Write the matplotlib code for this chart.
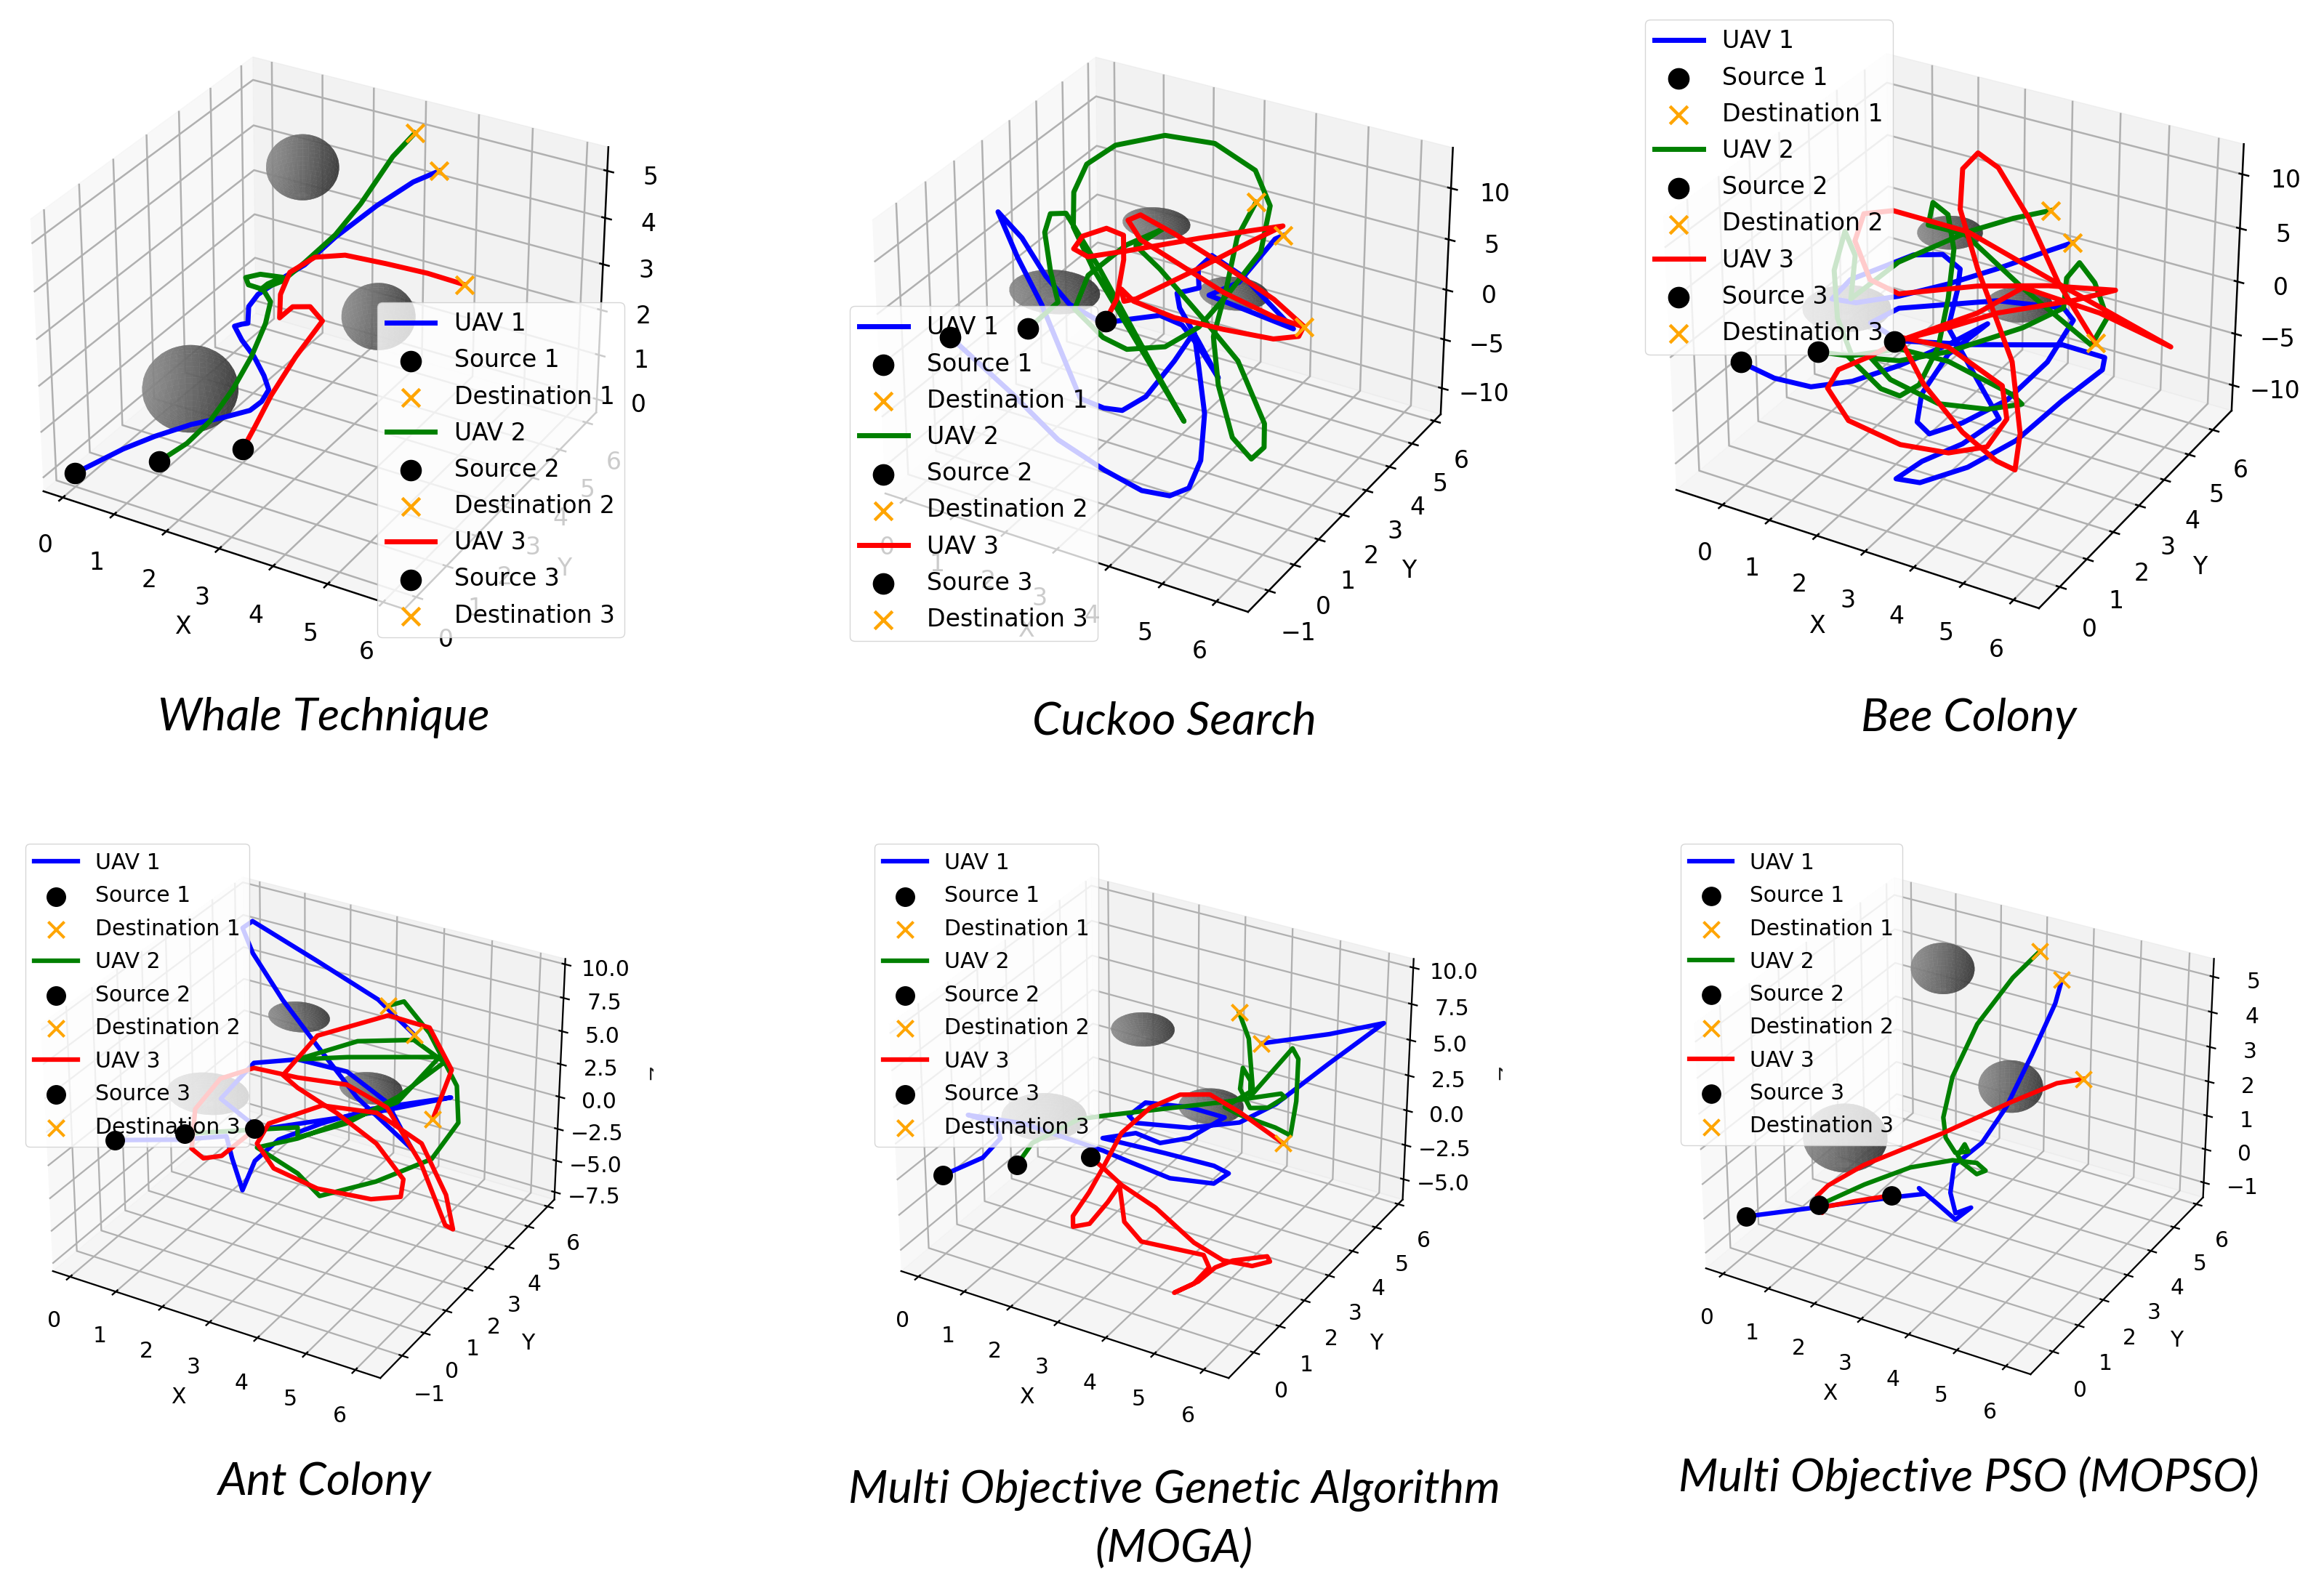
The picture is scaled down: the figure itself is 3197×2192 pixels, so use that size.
import matplotlib
matplotlib.use("Agg")
import matplotlib.pyplot as plt
from matplotlib.transforms import Bbox
import numpy as np

W, H = 3197, 2192

titles = ["Whale Technique", "Cuckoo Search", "Bee Colony", "Ant Colony",
          "Multi Objective Genetic Algorithm\n(MOGA)", "Multi Objective PSO (MOPSO)"]

# obstacles, the same in every panel
sphere_x = [1, 2, 4]
sphere_y = [2, 4, 3]
sphere_z = [1, 5, 3]
sphere_r = [0.8, 0.6, 0.6]

# sources and destinations, panel by panel
src_x = [0, 1, 2]
src_y = [0, 1, 2]
dst_x = [4, 3, 4]
dst_y = [5, 6, 6]
src_z = [[0, 0, 0], [-0.6, -0.5, -0.45], [-0.8, -0.8, -0.8],
         [-0.63, -0.6, -0.65], [-0.88, -0.79, -0.88], [-0.36, -0.3, -0.29]]
dst_z = [[5, 5, 2], [4.5, 4.4, -6.9], [4.4, 4.1, -7.4],
         [4.2, 4.07, -3.8], [4.31, 4.1, -4.47], [4.8, 4.67, 1.32]]

# y is not readable from a 3D picture, every path is read on one plane per panel
mid_y = [2.71, 2.25, 3.03, 2.35, 2.78, 2.87]

whale_x1 = [-.86, -.20, .55, 1.20, 1.72, 1.95, 2.09, 2.0, 1.81, 1.58, 1.44, 1.58, 1.70, 1.72, 1.90, 2.33, 2.79, 3.36, 4.11, 4.76]
whale_z1 = [-1.46, -.93, -.39, 0, .34, .62, .93, 1.21, 1.57, 1.85, 2.11, 2.20, 2.26, 2.63, 2.95, 3.41, 3.87, 4.63, 5.51, 6.19]
whale_x2 = [.45, .92, 1.39, 1.76, 2.04, 2.14, 2.0, 1.72, 1.67, 1.95, 2.37, 2.09, 1.95, 2.37, 2.79, 3.36, 3.82, 4.39]
whale_z2 = [-.86, -.19, .70, 1.55, 2.37, 2.87, 3.09, 3.10, 3.24, 3.40, 3.47, 3.24, 3.07, 3.39, 3.92, 4.68, 5.46, 6.59]
whale_x3 = [1.81, 2.14, 2.61, 3.12, 2.89, 2.56, 2.31, 2.33, 2.51, 2.98, 3.54, 4.29, 5.04]
whale_z3 = [0, .83, 1.83, 2.78, 3.01, 2.90, 2.58, 3.09, 3.62, 4.09, 4.31, 4.37, 4.41]

cuckoo_x1 = [-.05, .88, 1.82, 2.57, 3.13, 3.51, 3.74, 3.81, 3.69, 3.60, 3.22, 2.66, 2.19, 1.82, 1.35, .60, .13, -.24, .23, .69, 1.16, 1.82, 2.38, 2.94, 3.37, 3.69, 4.07, 3.69, 3.32, 3.27, 3.69, 3.67, 3.93, 4.54, 5.47, 4.44, 3.88, 4.44, 5.10]
cuckoo_z1 = [-11.49, -14.85, -16.53, -17.45, -17.08, -15.65, -12.43, -7.55, -2.94, .27, -3.17, -7.61, -9.75, -10.08, -9.83, -1.41, 2.66, 6.63, 4.71, 1.59, -.56, -1.48, -.24, .94, .62, -1.03, -3.56, -.55, 2.23, 3.59, 4.71, 6.59, 8.18, 6.95, 3.35, 3.94, 4.28, 6.33, 11.38]
cuckoo_x2 = [.93, .79, .69, .81, 1.12, 1.73, 2.29, 2.85, 3.41, 2.85, 2.24, 1.63, 1.26, 1.28, 1.54, 2.10, 3.04, 3.97, 4.72, 5.0, 4.84, 4.26, 3.69, 3.04, 2.29, 1.82, 1.26, 1.54, 2.29, 2.99, 2.48, 2.94, 3.79, 4.44, 4.96, 4.96, 4.72, 4.35, 4.07, 3.97, 4.21, 4.40]
cuckoo_z2 = [-.68, 2.22, 5.90, 7.88, 8.35, 4.12, -.29, -4.70, -8.95, -4.94, -.60, 3.74, 7.23, 10.61, 13.63, 16.16, 18.30, 18.76, 17.26, 14.35, 9.80, 5.08, .89, -2.02, -3.40, -2.91, -.89, 2.87, 6.88, 9.39, 7.07, 5.48, 1.74, -1.32, -6.75, -9.14, -10.70, -9.11, -4.28, .36, 5.49, 10.56]
cuckoo_x3 = [2.10, 2.24, 2.24, 1.91, 1.44, 1.26, 1.54, 2.29, 3.69, 5.24, 4.63, 3.69, 2.48, 2.24, 2.19, 2.43, 3.22, 4.16, 5.10, 5.57, 5.66, 5.10, 4.16, 3.22, 2.57, 2.33, 2.57, 3.22, 4.16, 5.10]
cuckoo_z3 = [1.34, 5.38, 7.77, 7.98, 6.56, 5.08, 4.69, 6.31, 9.49, 12.80, 10.43, 6.62, 1.90, 1.31, 2.44, 1.59, 1.13, 1.36, 1.82, 2.77, 3.88, 5.64, 7.57, 9.26, 10.18, 9.34, 7.79, 6.63, 4.94, 3.97]

bee_x1 = [-1.29, -.47, .45, 1.48, 2.52, 3.34, 2.52, 1.95, 1.85, 2.11, 2.82, 3.75, 4.57, 5.08, 4.88, 3.54, 1.48, .87, 1.48, 3.03, 4.88, 5.72, 5.68, 4.88, 3.95, 2.93, 1.90, 1.38, 1.95, 2.82, 3.59, 2.52, 2.72, 2.77, 2.41, 1.80, .45, .04, .56, 1.48, 2.52, 3.54, 4.42]
bee_z1 = [-11.06, -10.81, -9.02, -6.10, -2.73, .30, -3.64, -8.23, -11.08, -11.88, -9.82, -6.35, -1.65, 2.88, 3.75, 2.70, -.65, -2.82, -3.74, -2.06, .35, .30, -.89, -4.88, -9.94, -14.0, -17.0, -17.36, -14.81, -11.86, -8.37, -1.14, 2.77, 4.65, 5.54, 4.74, .74, -1.61, -1.31, .49, 2.95, 5.65, 8.15]
bee_x2 = [.35, .66, 1.07, 1.48, 1.90, 2.31, 2.52, 2.64, 2.52, 2.21, 2.11, 2.87, 4.06, 5.45, 5.75, 5.49, 5.18, 4.93, 4.88, 4.06, 2.52, 1.48, .87, 1.28, 2.31, 3.34, 4.06, 3.85, 2.52, 1.48, .45, .15, .10, .35, .56, .45, 1.48, 2.93, 3.85]
bee_z2 = [-6.66, -7.62, -8.9, -9.05, -7.39, -3.22, 1.59, 6.29, 9.31, 10.04, 7.87, 7.96, 4.50, 1.08, 3.97, 6.82, 8.24, 6.54, 3.75, .87, -3.41, -5.65, -6.22, -7.73, -8.67, -7.79, -6.31, -5.67, -4.32, -4.51, -6.53, -3.30, 1.18, 5.15, 3.15, -1.08, 3.67, 8.25, 10.59]
bee_x3 = [2.52, 3.54, 5.08, 5.90, 4.57, 3.13, 1.48, .87, .56, .76, 1.38, 2.93, 4.57, 7.01, 5.60, 4.06, 3.13, 1.48, .87, .15, -.10, .35, 1.48, 2.52, 3.34, 3.75, 3.65, 2.52, 1.48, 2.0, 2.82, 3.54, 3.93, 4.03, 3.85, 3.13, 2.77, 2.82, 3.13, 3.54, 4.16, 4.77]
bee_z3 = [-1.14, 1.56, 4.70, 6.67, 5.39, 3.53, .71, 1.27, 4.51, 7.27, 8.30, 8.25, 6.07, 2.98, 4.22, 4.58, 1.03, -3.74, -5.99, -8.29, -10.44, -13.02, -13.82, -13.17, -11.42, -8.17, -5.12, -2.96, -3.38, -7.25, -10.73, -12.52, -12.83, -9.17, -2.58, 5.11, 10.10, 13.79, 15.56, 14.73, 10.99, 5.89]

ant_x1 = [.17, 1.21, 1.33, 1.55, 1.83, 2.35, 3.28, 4.32, 5.92, 4.32, 1.93, 1.10, 1.83, 2.76, 3.80, 4.63, 5.15, 4.01, 3.18, 2.45, 1.83, 1.62, 1.83, 3.18, 4.42]
ant_z1 = [-3.97, -2.60, -4.21, -6.49, -3.88, -1.67, .56, 2.73, 5.21, 2.42, -1.33, .19, 3.66, 4.85, 4.97, 3.53, .59, 3.25, 6.25, 8.97, 11.79, 13.43, 14.11, 12.45, 10.85]
ant_x2 = [1.88, 2.76, 2.76, 3.80, 4.84, 5.77, 5.15, 4.01, 2.76, 3.80, 5.67, 4.84, 2.76, 1.88, 2.76, 3.23, 4.42, 5.56, 6.08, 6.03, 5.46, 4.94]
ant_z2 = [-1.38, -.30, -1.07, 1.10, 4.13, 7.63, 8.64, 7.43, 4.85, 6.05, 7.91, 3.75, -1.15, -2.78, -3.86, -5.11, -2.69, .25, 3.51, 6.17, 9.44, 11.21]
ant_x3 = [1.72, 1.10, .69, .43, .53, 1.10, 1.83, 2.76, 3.80, 4.63, 5.35, 5.87, 6.03, 5.87, 5.35, 4.42, 3.28, 2.14, 1.88, 2.24, 3.18, 4.32, 4.94, 4.99, 4.42, 3.59, 2.76, 2.45, 3.18, 4.63, 5.46, 5.92]
ant_z3 = [-1.86, -4.26, -4.89, -4.40, -1.19, 1.74, 3.28, 3.49, 4.0, 3.14, -.35, -4.45, -4.59, -2.13, 1.20, 2.53, 1.91, -.65, -2.47, -4.02, -4.58, -4.16, -3.30, -1.90, .21, 1.65, 2.72, 3.36, 7.03, 9.91, 9.83, 7.22]

moga_x1 = [-.89, -.47, -.58, -1.20, .04, 1.81, 2.33, 3.26, 4.19, 4.50, 4.19, 3.16, 1.81, 2.53, 3.05, 3.67, 4.40, 3.67, 2.74, 2.38, 2.53, 3.67, 4.71, 5.44, 6.47, 7.51, 6.47]
moga_z1 = [-5.08, -3.24, -2.26, -2.23, -1.65, -1.90, -2.12, -2.46, -1.91, -.88, -.65, -.77, -1.01, .05, -.15, .81, 2.95, 2.96, 2.41, 1.15, .77, 1.53, 2.90, 4.86, 8.55, 12.17, 10.52]
moga_x2 = [.25, 1.29, 1.86, 3.36, 4.40, 5.54, 5.62, 5.28, 4.92, 4.71, 4.76, 4.92, 4.92, 5.75, 5.87, 5.85, 5.75, 5.44, 4.71, 4.40, 4.97, 4.87]
moga_z2 = [-2.88, -.16, .65, 2.65, 4.03, 5.67, 5.50, 4.46, 4.10, 5.22, 6.70, 5.96, 4.89, 8.92, 8.32, 5.44, 3.01, 3.25, 3.43, 3.67, 5.37, 8.77]
moga_x3 = [1.81, 1.50, 1.13, 1.13, 1.50, 1.91, 2.17, 2.27, 2.64, 3.99, 4.11, 3.78, 3.36, 3.88, 4.24, 4.61, 5.33, 5.39, 5.02, 4.40, 3.78, 2.95, 2.22, 1.81, 2.22, 2.84, 3.47, 4.09, 4.71]
moga_z3 = [-3.15, -5.25, -7.39, -8.18, -7.58, -5.56, -4.05, -6.64, -7.71, -7.29, -8.07, -9.64, -10.76, -9.36, -7.94, -7.04, -5.97, -6.28, -7.0, -7.24, -6.60, -4.90, -4.0, -3.15, -.25, 2.15, 3.65, 4.25, 3.61]

pso_x1 = [-.05, 1.60, 2.22, 2.10, 2.53, 2.90, 3.24, 2.90, 2.79, 2.87, 3.47, 3.98, 4.50, 4.96]
pso_z1 = [-2.07, -1.10, -.75, -.63, -.95, -1.24, -.74, -1.05, -.48, .36, 1.26, 2.49, 4.16, 5.74]
pso_x2 = [.88, 1.91, 2.84, 3.36, 3.55, 3.36, 3.05, 2.95, 3.10, 3.18, 2.90, 2.69, 2.64, 2.84, 3.36, 4.09]
pso_z2 = [-1.02, -.09, .50, .63, .48, .30, .51, .69, 1.07, .89, .74, 1.10, 1.67, 2.92, 4.59, 6.13]
pso_x3 = [.67, -.05, -.31, -.10, -.21, .05, .88, 2.64, 4.09, 5.02]
pso_z3 = [-1.61, -2.09, -2.12, -2.29, -1.82, -1.39, -.43, 1.22, 2.68, 3.56]

paths_x = [[whale_x1, whale_x2, whale_x3], [cuckoo_x1, cuckoo_x2, cuckoo_x3], [bee_x1, bee_x2, bee_x3],
           [ant_x1, ant_x2, ant_x3], [moga_x1, moga_x2, moga_x3], [pso_x1, pso_x2, pso_x3]]
paths_z = [[whale_z1, whale_z2, whale_z3], [cuckoo_z1, cuckoo_z2, cuckoo_z3], [bee_z1, bee_z2, bee_z3],
           [ant_z1, ant_z2, ant_z3], [moga_z1, moga_z2, moga_z3], [pso_z1, pso_z2, pso_z3]]

# axis limits and ticks
xlims = [(-.38, 6.38), (-.38, 6.58), (-1, 6.5), (-.38, 6.5), (-.38, 6.5), (-.38, 6.5)]
ylims = [(-.38, 6.38), (-1.8, 6.3), (-.75, 6.8), (-1.96, 6.35), (-.95, 6.2), (-.85, 6.3)]
zlims = [(-.3, 5.5), (-12.7, 13.9), (-12.5, 12.75), (-8.1, 10.4), (-6.5, 10.6), (-1.45, 5.5)]
yticks = [range(0, 7), range(-1, 7), range(0, 7), range(-1, 7), range(0, 7), range(0, 7)]
zticks = [range(0, 6), range(-10, 11, 5), range(-10, 11, 5),
          np.arange(-7.5, 10.1, 2.5), np.arange(-5, 10.1, 2.5), range(-1, 6)]

# layout, pixels from the top left corner
centers = [(447, 440), (1607, 442), (2695, 437), (424, 1535), (1591, 1535), (2695, 1533)]
sizes = [884, 888, 888, 802, 802, 795]
legend_pos = [(519, 416), (1169, 421), (2263, 27), (35, 1161), (1203, 1161), (2312, 1161)]
legend_spacing = [0.52, 0.52, 0.52, 0.55, 0.55, 0.55]
title_pos = [(445, 987), (1615, 993), (2708, 989), (446, 2039), (1615, 2091), (2708, 2033)]
clipped_z = [None, None, None, (893, 1476), (2061, 1476), None]

colors = ["blue", "green", "red"]

fig = plt.figure(figsize=(W / 100, H / 100), dpi=100, facecolor="white")

u = np.linspace(0, 2 * np.pi, 40)
v = np.linspace(0, np.pi, 24)

for p in range(6):
    S = sizes[p]
    k = S / 390.0
    fs = 10 * S / 372.0
    plt.rcParams.update({"grid.linewidth": 0.8 * k, "axes.linewidth": 0.8 * k,
                         "xtick.major.width": 0.8 * k, "ytick.major.width": 0.8 * k,
                         "xtick.major.pad": 8 * k, "ytick.major.pad": 8 * k,
                         "axes.labelpad": 4 * k})
    cx, cy = centers[p]
    left = cx - 0.5135 * S
    bottom = H - (cy + 0.5135 * S)
    ax = fig.add_axes([left / W, bottom / H, S / W, S / H], projection="3d")
    ax.computed_zorder = False

    for i in range(3):
        sx = sphere_x[i] + sphere_r[i] * np.outer(np.cos(u), np.sin(v))
        sy = sphere_y[i] + sphere_r[i] * np.outer(np.sin(u), np.sin(v))
        sz = sphere_z[i] + sphere_r[i] * np.outer(np.ones_like(u), np.cos(v))
        ax.plot_surface(sx, sy, sz, color="#8c8c8c", alpha=0.75, linewidth=0, zorder=1)

    for i in range(3):
        n = len(paths_x[p][i])
        xs = [src_x[i]] + paths_x[p][i] + [dst_x[i]]
        ys = [src_y[i]] + [mid_y[p]] * n + [dst_y[i]]
        zs = [src_z[p][i]] + paths_z[p][i] + [dst_z[p][i]]
        ax.plot(xs, ys, zs, color=colors[i], lw=2.2 * k, label="UAV %d" % (i + 1), zorder=2,
                solid_joinstyle="round")
        # the markers stay on top of the legend box, as in the picture
        ax.scatter(src_x[i], src_y[i], src_z[p][i], color="black", s=80 * k * k, depthshade=False,
                   label="Source %d" % (i + 1), zorder=6)
        ax.scatter(dst_x[i], dst_y[i], dst_z[p][i], color="orange", marker="x", s=60 * k * k,
                   linewidths=1.4 * k, depthshade=False, label="Destination %d" % (i + 1), zorder=6)

    ax.set_xlim(xlims[p])
    ax.set_ylim(ylims[p])
    ax.set_zlim(zlims[p])
    ax.set_xticks(range(0, 7))
    ax.set_yticks(list(yticks[p]))
    ax.set_zticks(list(zticks[p]))
    ax.tick_params(labelsize=fs, pad=8 * k)
    ax.set_xlabel("X", fontsize=fs, labelpad=15 * k)
    ax.set_ylabel("Y", fontsize=fs, labelpad=15 * k)

    lx, ly = legend_pos[p]
    ax.legend(loc="upper left", bbox_to_anchor=(lx / W, 1 - ly / H), bbox_transform=fig.transFigure,
              borderaxespad=0, fontsize=fs, framealpha=0.8, labelspacing=legend_spacing[p])

    tx, ty = title_pos[p]
    fig.text(tx / W, 1 - ty / H, titles[p], ha="center", va="center", fontsize=45.5,
             family="Lato", style="italic", linespacing=1.5, color="black")

    if clipped_z[p]:
        zx, zy = clipped_z[p]
        t = fig.text(zx / W, 1 - zy / H, "Z", ha="left", va="center", fontsize=fs, rotation=90,
                     color="#222222")
        t.set_clip_box(Bbox([[zx, H - zy - 30], [zx + 6, H - zy + 30]]))
        t.set_clip_on(True)

fig.savefig("out.png", dpi=100, facecolor="white")
